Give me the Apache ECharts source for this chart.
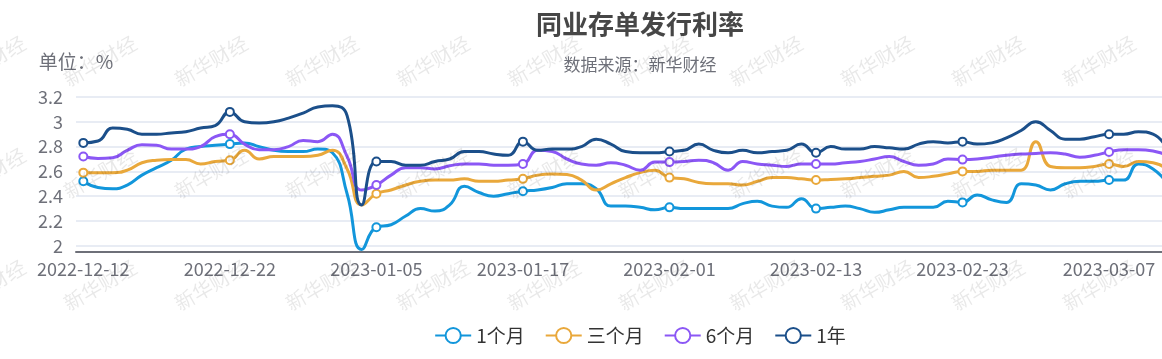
<!DOCTYPE html>
<html><head><meta charset="utf-8">
<script src="https://cdn.jsdelivr.net/npm/echarts@6/dist/echarts.min.js"></script>
<style>html,body{margin:0;padding:0;overflow:hidden;background:#fff;width:1162px;height:359px}#c{width:1280px;height:359px}</style>
</head><body><div id="c"></div><script>
const categories = [
 '2022-12-12','2022-12-13','2022-12-14','2022-12-15','2022-12-16','2022-12-17','2022-12-18','2022-12-19','2022-12-20','2022-12-21',
 '2022-12-22','2022-12-23','2022-12-26','2022-12-27','2022-12-28','2022-12-29','2022-12-30','2022-12-31','2023-01-03','2023-01-04',
 '2023-01-05','2023-01-06','2023-01-09','2023-01-10','2023-01-11','2023-01-12','2023-01-13','2023-01-14','2023-01-15','2023-01-16',
 '2023-01-17','2023-01-18','2023-01-19','2023-01-20','2023-01-21','2023-01-27','2023-01-28','2023-01-29','2023-01-30','2023-01-31',
 '2023-02-01','2023-02-02','2023-02-03','2023-02-04','2023-02-05','2023-02-06','2023-02-07','2023-02-08','2023-02-09','2023-02-10',
 '2023-02-13','2023-02-14','2023-02-15','2023-02-16','2023-02-17','2023-02-18','2023-02-19','2023-02-20','2023-02-21','2023-02-22',
 '2023-02-23','2023-02-24','2023-02-25','2023-02-26','2023-02-27','2023-02-28','2023-03-01','2023-03-02','2023-03-03','2023-03-06',
 '2023-03-07','2023-03-08','2023-03-09','2023-03-10','2023-03-13'
];
const seriesNames = ['1个月','三个月','6个月','1年'];
const rate1M = [
 2.52,2.47,2.46,2.49,2.57,2.63,2.69,2.78,2.80,2.81,
 2.82,2.83,2.80,2.77,2.76,2.76,2.78,2.75,2.42,1.97,
 2.15,2.17,2.24,2.30,2.28,2.33,2.48,2.43,2.40,2.42,
 2.44,2.45,2.47,2.50,2.50,2.46,2.32,2.32,2.31,2.29,
 2.31,2.30,2.30,2.30,2.30,2.34,2.36,2.32,2.31,2.38,
 2.30,2.31,2.32,2.30,2.27,2.29,2.31,2.31,2.31,2.36,
 2.35,2.41,2.37,2.35,2.50,2.49,2.45,2.50,2.52,2.52,
 2.53,2.53,2.66,2.62,2.50
];
const rate3M = [
 2.59,2.59,2.59,2.61,2.67,2.69,2.695,2.695,2.66,2.68,
 2.69,2.77,2.70,2.72,2.72,2.72,2.73,2.77,2.62,2.33,
 2.42,2.45,2.49,2.52,2.53,2.53,2.54,2.52,2.52,2.53,
 2.54,2.57,2.58,2.575,2.53,2.45,2.50,2.55,2.59,2.61,
 2.55,2.54,2.51,2.50,2.50,2.49,2.52,2.55,2.55,2.54,
 2.53,2.535,2.54,2.55,2.56,2.57,2.60,2.55,2.56,2.58,
 2.60,2.60,2.61,2.61,2.61,2.84,2.64,2.63,2.63,2.64,
 2.66,2.64,2.68,2.67,2.62
];
const rate6M = [
 2.72,2.705,2.71,2.77,2.815,2.81,2.78,2.78,2.80,2.88,
 2.90,2.82,2.775,2.775,2.80,2.85,2.84,2.90,2.72,2.45,
 2.49,2.57,2.63,2.63,2.62,2.645,2.66,2.66,2.65,2.65,
 2.66,2.77,2.76,2.70,2.66,2.65,2.67,2.65,2.61,2.675,
 2.675,2.68,2.69,2.67,2.61,2.68,2.66,2.65,2.64,2.66,
 2.66,2.66,2.67,2.68,2.70,2.72,2.68,2.65,2.66,2.70,
 2.695,2.70,2.715,2.73,2.74,2.745,2.75,2.74,2.715,2.73,
 2.757,2.775,2.775,2.765,2.73
];
const rate1Y = [
 2.83,2.845,2.95,2.94,2.90,2.90,2.91,2.92,2.95,2.97,
 3.08,3.00,2.99,3.00,3.03,3.07,3.12,3.13,3.05,2.33,
 2.68,2.68,2.65,2.65,2.68,2.70,2.76,2.76,2.74,2.73,
 2.84,2.77,2.78,2.78,2.80,2.86,2.82,2.76,2.75,2.75,
 2.76,2.77,2.82,2.77,2.75,2.77,2.75,2.76,2.77,2.82,
 2.75,2.80,2.78,2.78,2.80,2.79,2.78,2.82,2.84,2.83,
 2.84,2.82,2.83,2.87,2.93,3.00,2.93,2.86,2.86,2.88,
 2.90,2.90,2.92,2.90,2.78
];
const seriesData = [rate1M, rate3M, rate6M, rate1Y];
const colors = ['#1296db','#e9a83b','#8b57f5','#1b4f8a'];

const FONT = '"Noto Sans CJK SC", "Microsoft YaHei", sans-serif';
const chart = echarts.init(document.getElementById('c'), null, {renderer:'canvas'});

// watermark grid
const wm = [];
const wmCols = [-11,100,211,322,433,544,655,766,877,988,1099,1210];
const wmRows = [61,173,285];
wmRows.forEach(r => wmCols.forEach(c => wm.push({
  type:'text', x:c, y:r, rotation: 0.52, silent:true, z:100,
  style:{text:'新华财经', font:'20px ' + FONT, fill:'rgba(0,0,0,0.09)', align:'center', verticalAlign:'middle'}
})));

chart.setOption({
  animation:false,
  textStyle:{fontFamily:FONT},
  color: colors,
  title:{
    text:'同业存单发行利率', subtext:'数据来源：新华财经', left:'center', top:6, itemGap:19,
    textStyle:{fontSize:26, fontWeight:'bold', color:'#464646', fontFamily:FONT},
    subtextStyle:{fontSize:17, color:'#6e7079', fontFamily:FONT}
  },
  legend:{
    data: seriesNames, bottom: 9, left:'center', itemWidth:36, itemHeight:19, itemGap:20,
    textStyle:{fontSize:19, color:'#333', fontFamily:FONT}
  },
  grid:{left:76, right:105, top:97, bottom:107, containLabel:false},
  xAxis:{
    type:'category', data: categories, boundaryGap:true,
    axisLine:{lineStyle:{color:'#6e7079', width:2}},
    axisTick:{interval:9, lineStyle:{color:'#6e7079'}},
    axisLabel:{interval:9, fontSize:18, color:'#6e7079', margin:8}
  },
  yAxis:{
    type:'value', min:1.95, max:3.2, splitNumber:6,
    name:'单位：%', nameGap:26, nameTextStyle:{fontSize:19, color:'#6e7079', align:'center'},
    axisLine:{show:false}, axisTick:{show:false},
    axisLabel:{fontSize:18, color:'#6e7079', margin:13, showMinLabel:false},
    splitLine:{lineStyle:{color:'#e0e6f1', width:1.5}}
  },
  series: seriesNames.map((n,k) => ({
    name:n, type:'line', data: seriesData[k], smooth:true,
    symbol:'emptyCircle', showSymbol:true,
    symbolSize:(v,p) => (p.dataIndex % 10 === 0 ? 8 : 0),
    lineStyle:{width:3, color:colors[k]},
    itemStyle:{color:colors[k], borderColor:colors[k], borderWidth:2.5}
  })),
  graphic: wm
});
</script></body></html>
